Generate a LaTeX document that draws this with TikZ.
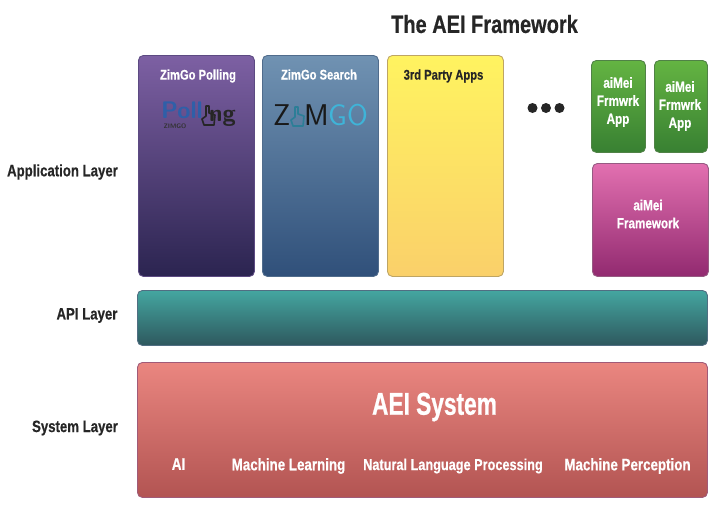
\documentclass[tikz,border=0pt]{standalone}
\usepackage{fontspec}
\usepackage{xcolor}
\usepackage{tikz}
\usetikzlibrary{calc,positioning}
\newfontfamily\slimfont[FakeStretch=0.8,FakeBold=0.5]{Liberation Sans Bold}
\newfontfamily\headfont[FakeStretch=0.72,FakeBold=0.7]{Liberation Sans Bold}
\definecolor{logoblue}{HTML}{2F5FA8}
\definecolor{logocyan}{HTML}{3FB4D8}
\newcommand{\handmark}[3]{% finger and palm of the logo hand
    \draw [#3,line width=1.6pt,line cap=round,line join=round] (#1-2,#2+8) -- (#1-2,#2-2) -- (#1-6,#2-5) -- (#1-4,#2-11) -- (#1+6,#2-11) -- (#1+7,#2-1) -- (#1+1,#2+1) -- (#1+1,#2+8) -- cycle;
}
\tikzset{
    layerbox/.style={rectangle,rounded corners=5pt,inner sep=0pt,line width=0.9pt,anchor=north west},
    whitetext/.style={text=white,align=center,inner sep=0pt},
    boxtitle/.style={whitetext,font=\slimfont\fontsize{14}{14}\selectfont},
    stacktext/.style={whitetext,font=\slimfont\fontsize{14.6}{18}\selectfont},
    itemtext/.style={whitetext,font=\slimfont\fontsize{16.7}{16.7}\selectfont},
    sidetext/.style={text=black!85,inner sep=0pt,font=\slimfont\fontsize{16.5}{16.5}\selectfont},
    dotnode/.style={circle,fill=black!85,inner sep=0pt,minimum size=10pt}
}
\begin{document}
\begin{tikzpicture}[x=1pt,y=1pt]
    \useasboundingbox (0,0) rectangle (715,-506);
    % boxes of the application layer
    \node [layerbox,draw={rgb,255:red,92;green,74;blue,130},top color={rgb,255:red,125;green,96;blue,163},bottom color={rgb,255:red,43;green,36;blue,80},minimum width=116pt,minimum height=221pt] (polling) at (138,-55) {};
    \node [layerbox,draw={rgb,255:red,80;green,108;blue,140},top color={rgb,255:red,112;green,146;blue,178},bottom color={rgb,255:red,48;green,80;blue,122},minimum width=116pt,minimum height=221pt] (search) at (262,-55) {};
    \node [layerbox,draw={rgb,255:red,190;green,165;blue,100},top color={rgb,255:red,255;green,243;blue,96},bottom color={rgb,255:red,250;green,208;blue,106},minimum width=116pt,minimum height=221pt] (party) at (387,-55) {};
    \node [layerbox,draw={rgb,255:red,80;green,130;blue,70},top color={rgb,255:red,100;green,180;blue,66},bottom color={rgb,255:red,56;green,128;blue,50},minimum width=54pt,minimum height=92pt] (appone) at (591,-60) {};
    \node [layerbox,draw={rgb,255:red,80;green,130;blue,70},top color={rgb,255:red,100;green,180;blue,66},bottom color={rgb,255:red,56;green,128;blue,50},minimum width=53pt,minimum height=92pt] (apptwo) at (654,-60) {};
    \node [layerbox,draw={rgb,255:red,150;green,90;blue,130},top color={rgb,255:red,226;green,112;blue,176},bottom color={rgb,255:red,146;green,42;blue,112},minimum width=116pt,minimum height=113pt] (framework) at (592,-163) {};
    % the two wide layers
    \node [layerbox,draw={rgb,255:red,80;green,110;blue,130},top color={rgb,255:red,68;green,166;blue,160},bottom color={rgb,255:red,46;green,88;blue,94},minimum width=570pt,minimum height=55pt] (api) at (137,-290) {};
    \node [layerbox,draw={rgb,255:red,160;green,90;blue,120},top color={rgb,255:red,234;green,134;blue,128},bottom color={rgb,255:red,178;green,84;blue,82},minimum width=570pt,minimum height=135pt] (system) at (137,-362) {};
    % text
    \node [sidetext,font=\slimfont\fontsize{25}{25}\selectfont] (title) at (484.5,-24) {The AEI Framework};
    \node [sidetext] (applabel) at (62.5,-172) {Application Layer};
    \node [sidetext] (apilabel) at (87,-315.5) {API Layer};
    \node [sidetext] (syslabel) at (75,-428) {System Layer};
    \node [boxtitle] (pollname) at (198,-76) {ZimGo Polling};
    \node [boxtitle] (searchname) at (319,-74.5) {ZimGo Search};
    \node [boxtitle,text=black!85] (partyname) at (443.5,-76) {3rd Party Apps};
    \node [stacktext] (onename) at (618,-102) {aiMei\\Frmwrk\\App};
    \node [stacktext] (twoname) at (680,-106) {aiMei\\Frmwrk\\App};
    \node [stacktext] (fwname) at (648,-214) {aiMei\\Framework};
    \node [whitetext,font=\headfont\fontsize{31.5}{31.5}\selectfont] (sysname) at (434.5,-407) {AEI System};
    \node [itemtext] (ai) at (178.5,-464) {AI};
    \node [itemtext] (learning) at (288.5,-466) {Machine Learning};
    \node [itemtext,font=\slimfont\fontsize{15.9}{15.9}\selectfont] (language) at (453,-466) {Natural Language Processing};
    \node [itemtext] (perception) at (627.5,-466) {Machine Perception};
    % logos
    \node [inner sep=0pt,anchor=base west,text=logoblue,font=\sffamily\bfseries\fontsize{24}{24}\selectfont] (polllogo) at (161,-118) {Poll};
    \node [inner sep=0pt,anchor=base east,text=black!85,font=\sffamily\bfseries\fontsize{24}{24}\selectfont] (pollend) at (236,-121) {ng};
    \node [inner sep=0pt,text=black!80,font=\sffamily\bfseries\fontsize{6.5}{6.5}\selectfont] (pollsmall) at (175,-126) {ZIMGO};
    \handmark{208}{-114}{black!85}
    \node [inner sep=0pt,anchor=base west,text=black!90,font=\sffamily\fontsize{30}{30}\selectfont] (zimz) at (273,-125) {Z};
    \node [inner sep=0pt,anchor=base west,text=black!90,font=\sffamily\fontsize{30}{30}\selectfont] (zimm) at (304,-125) {M};
    \node [inner sep=0pt,anchor=base east,text=logocyan,font=\sffamily\fontsize{30}{30}\selectfont] (zimgo) at (368,-125) {GO};
    \handmark{297}{-115}{logocyan!70!black}
    % dots
    \node [dotnode] (dotone) at (532.5,-108) {};
    \node [dotnode] (dottwo) at (546,-108) {};
    \node [dotnode] (dotthree) at (559.5,-108) {};
\end{tikzpicture}
\end{document}
